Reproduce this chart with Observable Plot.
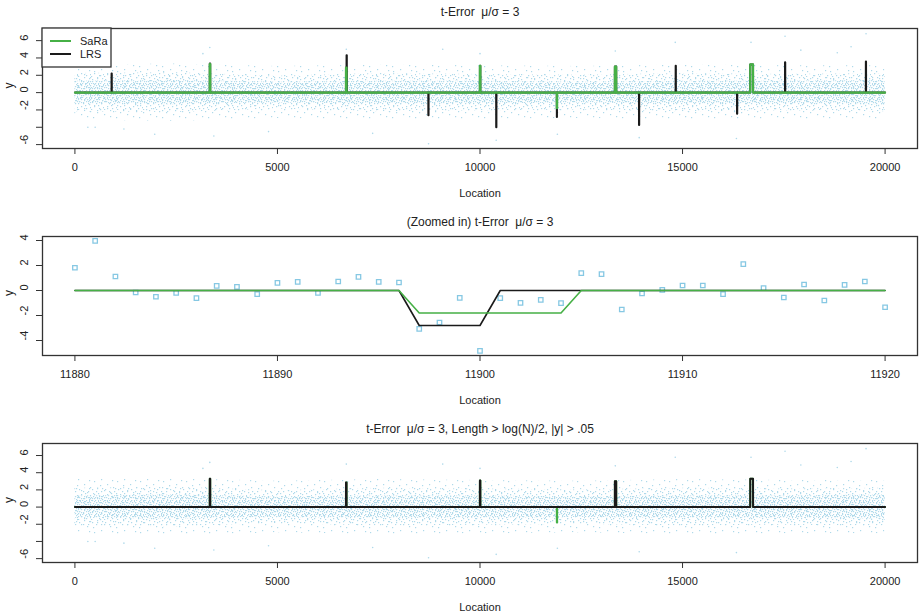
<!DOCTYPE html>
<html>
<head>
<meta charset="utf-8">
<script src="https://cdn.jsdelivr.net/npm/d3@7"></script>
<script src="https://cdn.jsdelivr.net/npm/@observablehq/plot@0.6"></script>
<style>
  html, body { margin: 0; padding: 0; background: white; overflow: hidden; }
  #chart { width: 921px; }
  #chart svg { display: block; }
</style>
</head>
<body>
<svg width="0" height="0" style="position:absolute">
  <defs>
    <pattern id="dotsSparse" patternUnits="userSpaceOnUse" width="23" height="17">
      <g fill="#afd9ea">
        <rect x="2" y="3" width="1.2" height="1.2"/><rect x="9" y="1" width="1.2" height="1.2"/>
        <rect x="15" y="6" width="1.2" height="1.2"/><rect x="20" y="2" width="1.2" height="1.2"/>
        <rect x="5" y="10" width="1.2" height="1.2"/><rect x="12" y="12" width="1.2" height="1.2"/>
        <rect x="18" y="14" width="1.2" height="1.2"/><rect x="1" y="15" width="1.2" height="1.2"/>
        <rect x="8" y="7" width="1.2" height="1.2"/><rect x="21" y="9" width="1.2" height="1.2"/>
      </g>
    </pattern>
    <pattern id="dotsMid" patternUnits="userSpaceOnUse" width="13" height="11">
      <g fill="#afd9ea">
        <rect x="1" y="2" width="1.2" height="1.2"/><rect x="6" y="0" width="1.2" height="1.2"/>
        <rect x="10" y="4" width="1.2" height="1.2"/><rect x="3" y="7" width="1.2" height="1.2"/>
        <rect x="8" y="9" width="1.2" height="1.2"/><rect x="12" y="8" width="1.2" height="1.2"/>
        <rect x="5" y="4" width="1.2" height="1.2"/><rect x="0" y="10" width="1.2" height="1.2"/>
        <rect x="11" y="1" width="1.2" height="1.2"/><rect x="7" y="6" width="1.2" height="1.2"/>
      </g>
    </pattern>
    <pattern id="dotsCore" patternUnits="userSpaceOnUse" width="9" height="7">
      <g fill="#b3dbeb">
        <rect x="0" y="1" width="1.2" height="1.2"/><rect x="4" y="0" width="1.2" height="1.2"/>
        <rect x="7" y="3" width="1.2" height="1.2"/><rect x="2" y="4" width="1.2" height="1.2"/>
        <rect x="5" y="6" width="1.2" height="1.2"/><rect x="8" y="6" width="1.2" height="1.2"/>
        <rect x="3" y="2" width="1.2" height="1.2"/><rect x="6" y="1" width="1.2" height="1.2"/>
        <rect x="1" y="6" width="1.2" height="1.2"/><rect x="5" y="3" width="1.2" height="1.2"/>
        <rect x="8" y="0" width="1.2" height="1.2"/><rect x="0" y="4" width="1.2" height="1.2"/>
      </g>
    </pattern>
  </defs>
</svg>
<div id="chart"></div>
<script>
// ---------- data ----------
const seriesNames = ["SaRa", "LRS"];
const seriesColors = ["#46b046", "#1a1a1a"];

const titles = [
  "t-Error  \u03bc/\u03c3 = 3",
  "(Zoomed in) t-Error  \u03bc/\u03c3 = 3",
  "t-Error  \u03bc/\u03c3 = 3, Length > log(N)/2, |y| > .05"
];
const xAxisTitle = "Location";
const yAxisTitle = "y";

const fullXTicks = [0, 5000, 10000, 15000, 20000];
const fullXLabels = ["0", "5000", "10000", "15000", "20000"];
const fullYTicks = [-6, -4, -2, 0, 2, 4, 6];
const fullYLabels = ["-6", "", "-2", "0", "2", "4", "6"];
const zoomXTicks = [11880, 11890, 11900, 11910, 11920];
const zoomXLabels = ["11880", "11890", "11900", "11910", "11920"];
const zoomYTicks = [-4, -2, 0, 2, 4];
const zoomYLabels = ["-4", "-2", "0", "2", "4"];

// estimated envelope of the observation cloud (full panels)
const noiseLoc   = [0, 2500, 5000, 7500, 10000, 12500, 15000, 17500, 20000];
const noiseOuter = [3.2, 3.3, 3.0, 3.2, 3.1, 3.0, 3.2, 3.1, 3.1];
const noiseMid   = [2.2, 2.3, 1.9, 2.2, 2.1, 2.0, 2.2, 2.1, 2.2];
const noiseCore  = [1.3, 1.4, 1.2, 1.3, 1.3, 1.2, 1.3, 1.3, 1.4];
// readable isolated observations (full panels)
const outlierLoc = [320, 500, 1210, 1970, 3160, 3330, 3430, 4780, 6700, 7350, 8730, 9080, 10000, 10400, 11910, 13340, 13930, 14820, 16330, 16690, 17530, 17920, 18820, 19160, 19530];
const outlierY   = [-4.0, -4.0, -4.2, -4.8, 4.5, 5.2, -5.0, -4.5, 5.0, -4.7, -5.9, 5.0, 4.5, -5.5, -4.8, 4.8, -5.2, 5.8, -5.3, 5.8, 6.5, 4.9, 4.6, 5.3, 6.8];

// zoomed observations
const zoomLoc = [11880, 11881, 11882, 11883, 11884, 11885, 11886, 11887, 11888, 11889,
                 11890, 11891, 11892, 11893, 11894, 11895, 11896, 11897, 11898, 11899,
                 11900, 11901, 11902, 11903, 11904, 11905, 11906, 11907, 11908, 11909,
                 11910, 11911, 11912, 11913, 11914, 11915, 11916, 11917, 11918, 11919, 11920];
const zoomY = [1.82, 3.97, 1.12, -0.16, -0.50, -0.19, -0.61, 0.37, 0.29, -0.29,
               0.61, 0.69, -0.19, 0.72, 1.09, 0.69, 0.64, -3.07, -2.56, -0.59,
               -4.83, -0.61, -0.99, -0.75, -1.01, 1.39, 1.31, -1.52, -0.24, 0.05,
               0.40, 0.40, -0.29, 2.11, 0.19, -0.56, 0.48, -0.80, 0.45, 0.72, -1.34];

// fitted segments [start, end, level]; zero elsewhere
const saraSegs1 = [[3330, 3340, 3.3], [6692, 6705, 2.9], [9998, 10008, 3.1], [11897, 11904, -1.8], [13330, 13362, 3.0], [16672, 16740, 3.25]];
const lrsSegs1 = [[905, 910, 2.2], [3330, 3340, 3.35], [6692, 6705, 2.9], [6706, 6712, 4.3], [8725, 8730, -2.6],
                  [9998, 10008, 3.1], [10400, 10405, -4.0], [11897, 11900, -2.8], [13330, 13362, 3.0], [13925, 13930, -3.75],
                  [14830, 14835, 3.1], [16345, 16350, -2.45], [16672, 16740, 3.25], [17530, 17535, 3.5], [19525, 19530, 3.6]];
const saraSegsZoom = [[11897, 11904, -1.8]];
const lrsSegsZoom = [[11897, 11900, -2.8]];
const saraSegs3 = [[3330, 3340, 3.3], [6692, 6705, 2.85], [9998, 10008, 3.1], [11897, 11904, -1.8], [13330, 13362, 3.0], [16672, 16740, 3.3]];
const lrsSegs3 = [[3330, 3340, 3.3], [6692, 6705, 2.85], [9998, 10008, 3.1], [13330, 13362, 3.0], [16672, 16740, 3.3]];

// ---------- helpers ----------
function fitted(segs, a0, b0) {
  const out = [];
  let cur = a0;
  for (const [a, b, v] of segs) {
    if (a > cur) out.push([cur, a - 1, 0]);
    out.push([a, b, v]);
    cur = b + 1;
  }
  if (cur <= b0) out.push([cur, b0, 0]);
  return out.flatMap(([a, b, v]) => [{x: a, y: v}, {x: b, y: v}]);
}

const noise = noiseLoc.map((x, i) => ({x, outer: noiseOuter[i], mid: noiseMid[i], core: noiseCore[i]}));
const outliers = outlierLoc.map((x, i) => ({x, y: outlierY[i]}));
const zoomPts = zoomLoc.map((x, i) => ({x, y: zoomY[i]}));

const FONT = "'Liberation Sans', Arial, Helvetica, sans-serif";

function frameMarks(p) {
  const yt = p.yTicks.map((v, i) => ({v, t: p.yLabels[i]})).filter(d => d.t !== "");
  return [
    Plot.frame({stroke: "#333", strokeWidth: 1.3}),
    Plot.axisX({ticks: p.xTicks, tickSize: 6, tickPadding: 9, tickFormat: d => p.xLabels[p.xTicks.indexOf(d)], label: null, stroke: "#333", fontSize: 11}),
    Plot.axisY({ticks: p.yTicks, tickSize: 6, tickFormat: () => "", label: null, stroke: "#333"}),
    Plot.text(yt, {y: "v", text: "t", frameAnchor: "left", dx: -18, rotate: -90, fontSize: 11, fill: "#222"}),
    Plot.text([p.title], {text: d => d, frameAnchor: "top", lineAnchor: "middle", dy: -p.titleDy, fontSize: 12, fill: "#222"}),
    Plot.text([xAxisTitle], {text: d => d, frameAnchor: "bottom", lineAnchor: "middle", dy: 45, fontSize: 11, fill: "#222"}),
    Plot.text([yAxisTitle], {text: d => d, frameAnchor: "left", dx: -33, rotate: -90, fontSize: 12, fill: "#222"})
  ];
}

function cloudMarks() {
  return [
    Plot.areaY(noise, {x: "x", y1: d => -d.outer, y2: d => d.outer, fill: "url(#dotsSparse)"}),
    Plot.areaY(noise, {x: "x", y1: d => -d.mid, y2: d => d.mid, fill: "url(#dotsMid)"}),
    Plot.areaY(noise, {x: "x", y1: d => -d.core, y2: d => d.core, fill: "url(#dotsCore)"}),
    Plot.dot(outliers, {x: "x", y: "y", r: 0.8, fill: "#afd9ea", stroke: null})
  ];
}

function makePanel(p, marks) {
  return Plot.plot({
    width: 921,
    height: p.height,
    marginTop: p.marginTop,
    marginBottom: p.marginBottom,
    marginLeft: 42,
    marginRight: 4,
    x: {domain: p.xDomain},
    y: {domain: p.yDomain},
    style: {fontFamily: FONT, fontSize: "11px", color: "#222", background: "white", overflow: "visible"},
    marks: [...marks, ...frameMarks(p)]
  });
}

const chart = document.getElementById("chart");

// ---------- panel 1 ----------
const p1 = {height: 205, marginTop: 28, marginBottom: 57, xDomain: [-800, 20800], yDomain: [-6.45, 7.4],
            xTicks: fullXTicks, xLabels: fullXLabels, yTicks: fullYTicks, yLabels: fullYLabels, title: titles[0], titleDy: 16};
const svg1 = makePanel(p1, [
  ...cloudMarks(),
  Plot.line(fitted(lrsSegs1, 1, 20000), {x: "x", y: "y", stroke: seriesColors[1], strokeWidth: 2}),
  Plot.line(fitted(saraSegs1, 1, 20000), {x: "x", y: "y", stroke: seriesColors[0], strokeWidth: 2.2})
]);
chart.appendChild(svg1);

// legend (inside panel 1, top-left)
{
  const g = d3.select(svg1).append("g").attr("font-family", FONT).attr("font-size", 11).attr("text-anchor", "start");
  g.append("rect").attr("x", 42).attr("y", 28).attr("width", 69).attr("height", 39)
    .attr("fill", "white").attr("stroke", "#333").attr("stroke-width", 1.3);
  seriesNames.forEach((name, i) => {
    const yy = 41 + i * 13;
    g.append("line").attr("x1", 50).attr("x2", 71).attr("y1", yy).attr("y2", yy)
      .attr("stroke", seriesColors[i]).attr("stroke-width", 2);
    g.append("text").attr("x", 80).attr("y", yy).attr("dy", "0.35em")
      .attr("text-anchor", "start").attr("fill", "#222").text(name);
  });
}

// ---------- panel 2 (zoom) ----------
const p2 = {height: 205, marginTop: 31, marginBottom: 55, xDomain: [11878.4, 11921.6], yDomain: [-5.2, 4.32],
            xTicks: zoomXTicks, xLabels: zoomXLabels, yTicks: zoomYTicks, yLabels: zoomYLabels, title: titles[1], titleDy: 14};
const svg2 = makePanel(p2, [
  Plot.dot(zoomPts, {x: "x", y: "y", symbol: "square", r: 2.5, stroke: "#86c8e3", strokeWidth: 1.3, fill: "none"}),
  Plot.line(fitted(lrsSegsZoom, 11880, 11920), {x: "x", y: "y", stroke: seriesColors[1], strokeWidth: 1.6}),
  Plot.line(fitted(saraSegsZoom, 11880, 11920), {x: "x", y: "y", stroke: seriesColors[0], strokeWidth: 1.6})
]);
chart.appendChild(svg2);

// ---------- panel 3 ----------
const p3 = {height: 204, marginTop: 33, marginBottom: 52, xDomain: [-800, 20800], yDomain: [-6.45, 7.4],
            xTicks: fullXTicks, xLabels: fullXLabels, yTicks: fullYTicks, yLabels: fullYLabels, title: titles[2], titleDy: 14};
const svg3 = makePanel(p3, [
  ...cloudMarks(),
  Plot.line(fitted(saraSegs3, 1, 20000), {x: "x", y: "y", stroke: seriesColors[0], strokeWidth: 2}),
  Plot.line(fitted(lrsSegs3, 1, 20000), {x: "x", y: "y", stroke: seriesColors[1], strokeWidth: 2})
]);
chart.appendChild(svg3);
</script>
</body>
</html>
